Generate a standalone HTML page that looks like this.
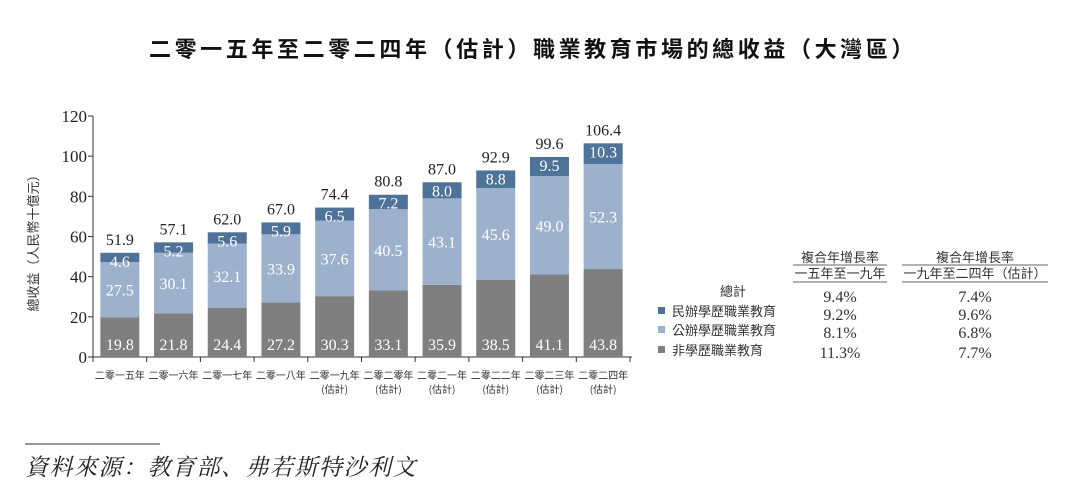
<!DOCTYPE html>
<html><head><meta charset="utf-8"><style>
body{margin:0;background:#fff;width:1065px;height:490px;overflow:hidden;font-family:"Liberation Serif","Noto Serif CJK SC",serif}
</style></head><body>
<svg width="1065" height="490" xmlns="http://www.w3.org/2000/svg">
<text x="533" y="57" text-anchor="middle" font-size="22" font-weight="bold" letter-spacing="3.6" font-family="Noto Sans CJK TC,sans-serif" fill="#111">二零一五年至二零二四年（估計）職業教育市場的總收益（大灣區）</text>
<g id="plot"></g>
<text transform="translate(38,240) rotate(-90)" text-anchor="middle" font-size="13" fill="#333" font-family="Noto Sans CJK TC,sans-serif">總收益（人民幣十億元）</text>
<g font-family="Noto Sans CJK TC,sans-serif" font-size="13" fill="#333">
<text x="840" y="262" text-anchor="middle">複合年增長率</text>
<text x="840" y="278" text-anchor="middle">一五年至一九年</text>
<line x1="793" y1="265" x2="887" y2="265" stroke="#333" stroke-width="0.8"/>
<line x1="793" y1="282" x2="887" y2="282" stroke="#333" stroke-width="0.8"/>
<text x="975" y="262" text-anchor="middle">複合年增長率</text>
<text x="975" y="278" text-anchor="middle">一九年至二四年（估計）</text>
<line x1="902" y1="265" x2="1048" y2="265" stroke="#333" stroke-width="0.8"/>
<line x1="902" y1="282" x2="1048" y2="282" stroke="#333" stroke-width="0.8"/>
<text x="733" y="296" text-anchor="middle">總計</text>
<rect x="658" y="307" width="7" height="7" fill="#4f7298"/><text x="672" y="316">民辦學歷職業教育</text>
<rect x="658" y="326" width="7" height="7" fill="#9db0cc"/><text x="672" y="335">公辦學歷職業教育</text>
<rect x="658" y="346" width="7" height="7" fill="#7f7f7f"/><text x="672" y="355">非學歷職業教育</text>
</g>
<g font-size="16" fill="#333" text-anchor="middle">
<text x="840" y="302">9.4%</text><text x="975" y="302">7.4%</text>
<text x="840" y="320">9.2%</text><text x="975" y="320">9.6%</text>
<text x="840" y="338">8.1%</text><text x="975" y="338">6.8%</text>
<text x="840" y="358">11.3%</text><text x="975" y="358">7.7%</text>
</g>
<line x1="25" y1="444" x2="160" y2="444" stroke="#333" stroke-width="1"/>
<text x="25" y="475" font-size="23" font-style="italic" letter-spacing="1.5" fill="#222" font-family="Noto Serif CJK SC,serif">資料來源：教育部、弗若斯特沙利文</text>
</svg>
<script>
const categories=["二零一五年","二零一六年","二零一七年","二零一八年","二零一九年","二零二零年","二零二一年","二零二二年","二零二三年","二零二四年"];
const estimated=[false,false,false,false,true,true,true,true,true,true];
const nonAcademic=[19.8,21.8,24.4,27.2,30.3,33.1,35.9,38.5,41.1,43.8];
const publicEdu=[27.5,30.1,32.1,33.9,37.6,40.5,43.1,45.6,49.0,52.3];
const privateEdu=[4.6,5.2,5.6,5.9,6.5,7.2,8.0,8.8,9.5,10.3];
const totals=[51.9,57.1,62.0,67.0,74.4,80.8,87.0,92.9,99.6,106.4];
const yTicks=[0,20,40,60,80,100,120];
const NS="http://www.w3.org/2000/svg";
const g=document.getElementById("plot");
const x0=93,x1=630,yBase=357,yTop=116,yMax=120;
const bw=(x1-x0)/categories.length, barW=39;
const y=v=>yBase-(v/yMax)*(yBase-yTop);
const xc=i=>x0+bw*(i+0.5);
function el(t,a,txt){const e=document.createElementNS(NS,t);for(const k in a)e.setAttribute(k,a[k]);if(txt!=null)e.textContent=txt;g.appendChild(e);return e;}
const ax=el("line",{x1:x0,y1:y(0),x2:x0,y2:y(yMax),stroke:"#333"});


const xa=el("line",{x1:x0,y1:yBase,x2:x1+2,y2:yBase,stroke:"#333"});


yTicks.forEach(v=>{
  el("line",{x1:x0-5,x2:x0,y1:y(v),y2:y(v),stroke:"#333"});
  const t=el("text",{x:x0-6,y:y(v)+6,"text-anchor":"end","font-size":17,fill:"#222"},v);
  
  
});
for(let i=0;i<=categories.length;i++){el("line",{x1:x0+bw*i,x2:x0+bw*i,y1:yBase,y2:yBase+5,stroke:"#333"});}
const series=[[nonAcademic,"#7f7f7f","bar-nonacademic"],[publicEdu,"#9db0cc","bar-public"],[privateEdu,"#4f7298","bar-private"]];
categories.forEach((c,i)=>{
  let base=0;
  series.forEach(([arr,col,nm])=>{
    const v=arr[i];
    const r=el("rect",{x:xc(i)-barW/2,y:y(base+v),width:barW,height:y(base)-y(base+v),fill:col});
    
    
    const mid=(y(base)+y(base+v))/2;
    const ty=nm==="bar-private"?y(base+v)+14:(nm==="bar-nonacademic"?y(base)-7:mid+6);
    el("text",{x:xc(i),y:ty,"text-anchor":"middle","font-size":16,fill:"#fff"},v.toFixed(1));
    base+=v;
  });
  const tl=el("text",{x:xc(i),y:y(totals[i])-8,"text-anchor":"middle","font-size":16,fill:"#222"},totals[i].toFixed(1));
  
  
  const xl=el("text",{x:xc(i),y:yBase+22,"text-anchor":"middle","font-size":10,fill:"#333","font-family":"Noto Sans CJK TC,sans-serif"},c);
  
  
  if(estimated[i])el("text",{x:xc(i),y:yBase+36,"text-anchor":"middle","font-size":10,fill:"#333","font-family":"Noto Sans CJK TC,sans-serif"},"(估計)");
});
</script>
</body></html>
